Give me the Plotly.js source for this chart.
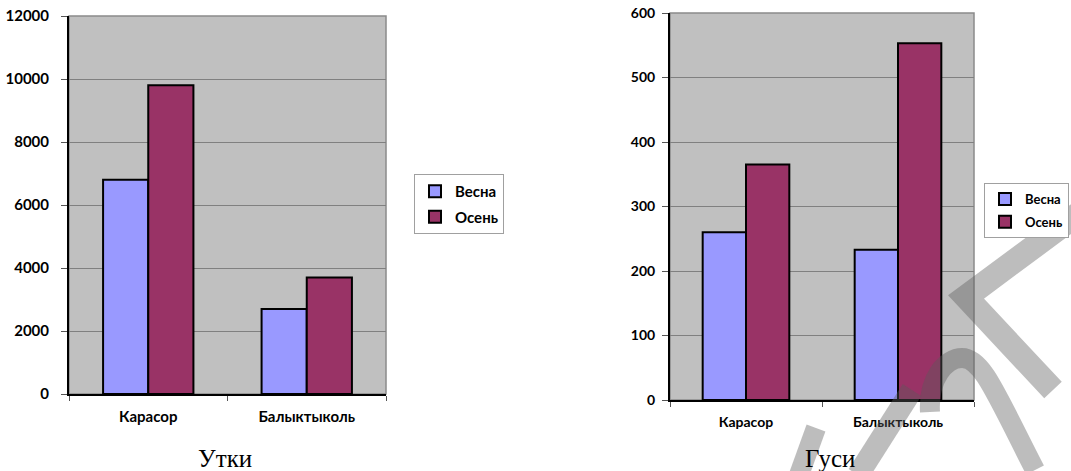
<!DOCTYPE html>
<html>
<head>
<meta charset="utf-8">
<script src="https://cdn.plot.ly/plotly-3.0.1.min.js"></script>
<style>
html,body{margin:0;padding:0;background:#fff;}
#chart{width:1071px;height:471px;}
</style>
</head>
<body>
<div id="chart"></div>
<script>
const categories = ['Карасор', 'Балыктыколь'];
const seriesNames = ['Весна', 'Осень'];
const duckSpring = [6800, 2700];
const duckAutumn = [9800, 3700];
const gooseSpring = [260, 233];
const gooseAutumn = [365, 553];
const captions = ['Утки', 'Гуси'];
const duckTicks = [0, 2000, 4000, 6000, 8000, 10000, 12000];
const gooseTicks = [0, 100, 200, 300, 400, 500, 600];

const W = 1071, H = 471;
const px = v => v / W;
const py = v => 1 - v / H;

const springColor = '#9999ff';
const autumnColor = '#993366';
const tickFont = {family: 'Lato, "Open Sans", sans-serif', size: 15, color: '#000', weight: 'bold'};
const tickFont2 = Object.assign({}, tickFont, {size: 14});

function bar(x, y, name, color, xa, ya, legend, group) {
  return {
    type: 'bar', x: x, y: y, name: name, xaxis: xa, yaxis: ya,
    legend: legend, legendgroup: group,
    marker: {color: color, line: {color: '#000', width: 2}},
    hoverinfo: 'x+y+name'
  };
}

const data = [
  bar(categories, duckSpring, seriesNames[0], springColor, 'x', 'y', 'legend', 'a'),
  bar(categories, duckAutumn, seriesNames[1], autumnColor, 'x', 'y', 'legend', 'b'),
  bar(categories, gooseSpring, seriesNames[0], springColor, 'x2', 'y2', 'legend2', 'c'),
  bar(categories, gooseAutumn, seriesNames[1], autumnColor, 'x2', 'y2', 'legend2', 'd')
];

function xAxis(domain, anchor, font) {
  return {
    domain: domain, anchor: anchor, type: 'category',
    showline: true, linecolor: '#000', linewidth: 2,
    ticks: 'outside', tickson: 'boundaries', ticklen: 5, tickcolor: '#555', tickwidth: 1,
    showgrid: false, tickfont: font, ticklabelstandoff: 8, automargin: false,
    fixedrange: true
  };
}
function yAxis(domain, anchor, range, tickvals, font, standoff) {
  return {
    domain: domain, anchor: anchor, range: range,
    tickmode: 'array', tickvals: tickvals, ticktext: tickvals.map(String),
    showline: true, linecolor: '#000', linewidth: 2,
    ticks: 'outside', ticklen: 6, tickcolor: '#555', tickwidth: 1,
    showgrid: true, gridcolor: '#808080', gridwidth: 1,
    zeroline: false, tickfont: font, ticklabelstandoff: standoff, automargin: false,
    fixedrange: true
  };
}

// watermark (scan artefact) drawn as semi-transparent strokes
const wmColor = 'rgba(90,90,90,0.4)';
function wm(points, w) {
  const d = points.map(p => typeof p === 'string' ? p :
    px(p[0]).toFixed(5) + ',' + py(p[1]).toFixed(5)).join(' ');
  return {type: 'path', xref: 'paper', yref: 'paper', path: d,
    line: {color: wmColor, width: w}, fillcolor: 'rgba(0,0,0,0)', layer: 'above'};
}

const layout = {
  width: W, height: H,
  margin: {l: 0, r: 0, t: 0, b: 0, pad: 0, autoexpand: false},
  paper_bgcolor: '#fff',
  plot_bgcolor: '#c0c0c0',
  barmode: 'group', bargap: 0.43, bargroupgap: 0,
  showlegend: true,
  font: {family: 'Lato, sans-serif', color: '#000'},
  xaxis: xAxis([px(69), px(386)], 'y', tickFont),
  yaxis: yAxis([1 - 394 / H, 1 - 16 / H], 'x', [0, 12000], duckTicks, tickFont, 9),
  xaxis2: xAxis([px(670), px(974)], 'y2', tickFont2),
  yaxis2: yAxis([1 - 400 / H, 1 - 13 / H], 'x2', [0, 600], gooseTicks, tickFont2, 4),
  legend: {
    x: px(414), y: py(174), xanchor: 'left', yanchor: 'top',
    bgcolor: '#fff', bordercolor: '#a0a0a0', borderwidth: 1,
    font: {family: 'Lato, sans-serif', size: 15, color: '#000', weight: 'bold'},
    traceorder: 'grouped', tracegroupgap: 3, itemclick: false, itemdoubleclick: false
  },
  legend2: {
    x: px(984), y: py(183), xanchor: 'left', yanchor: 'top',
    bgcolor: '#fff', bordercolor: '#a0a0a0', borderwidth: 1,
    font: {family: 'Lato, sans-serif', size: 13, color: '#000', weight: 'bold'},
    traceorder: 'grouped', tracegroupgap: 3, itemclick: false, itemdoubleclick: false
  },
  annotations: [
    {text: captions[0], xref: 'paper', yref: 'paper', x: px(225), y: py(458), xanchor: 'center', yanchor: 'middle',
     showarrow: false, font: {family: '"Liberation Serif", "Times New Roman", serif', size: 25, color: '#000'}},
    {text: captions[1], xref: 'paper', yref: 'paper', x: px(830), y: py(458), xanchor: 'center', yanchor: 'middle',
     showarrow: false, font: {family: '"Liberation Serif", "Times New Roman", serif', size: 25, color: '#000'}}
  ],
  shapes: [
    {type: 'rect', xref: 'x domain', yref: 'y domain', x0: 0, x1: 1, y0: 0, y1: 1, line: {color: '#8a8a8a', width: 1.5}, layer: 'below'},
    {type: 'rect', xref: 'x2 domain', yref: 'y2 domain', x0: 0, x1: 1, y0: 0, y1: 1, line: {color: '#8a8a8a', width: 1.5}, layer: 'below'},
    wm(['M', [1090, 205], 'L', [966, 297], 'L', [1053, 390]], 24),
    wm(['M', [930, 412], 'C', [928, 378], [946, 358], [962, 358], 'C', [982, 358], [995, 392], [1035, 470]], 20),
    wm(['M', [912, 390], 'L', [858, 475]], 22),
    wm(['M', [816, 428], 'L', [799, 475]], 20)
  ]
};

Plotly.newPlot('chart', data, layout, {displayModeBar: false, staticPlot: true});
</script>
</body>
</html>
